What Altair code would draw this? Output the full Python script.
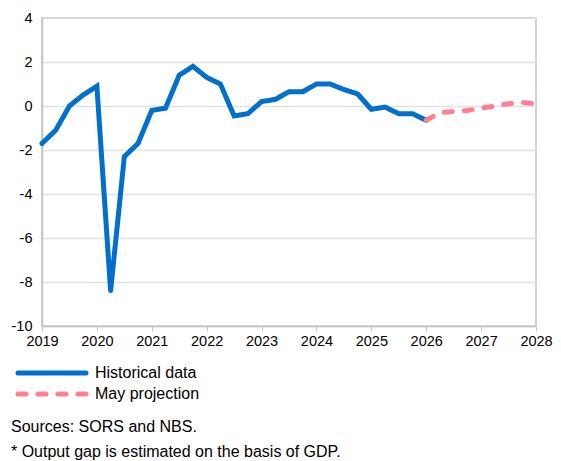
import altair as alt
import pandas as pd

# Quarterly time points (year fractions) and output gap values (% of potential GDP)
hist_t = [2019.0, 2019.25, 2019.5, 2019.75, 2020.0, 2020.25, 2020.5, 2020.75,
          2021.0, 2021.25, 2021.5, 2021.75, 2022.0, 2022.25, 2022.5, 2022.75,
          2023.0, 2023.25, 2023.5, 2023.75, 2024.0, 2024.25, 2024.5, 2024.75,
          2025.0, 2025.25, 2025.5, 2025.75, 2026.0]
hist_v = [-1.7, -1.1, 0.0, 0.5, 0.9, -8.4, -2.3, -1.7,
          -0.2, -0.1, 1.4, 1.8, 1.3, 1.0, -0.45, -0.35,
          0.2, 0.3, 0.65, 0.65, 1.0, 1.0, 0.75, 0.55,
          -0.15, -0.05, -0.35, -0.35, -0.65]

proj_t = [2026.0, 2026.25, 2026.5, 2026.75, 2027.0, 2027.25, 2027.5, 2027.75, 2028.0]
proj_v = [-0.65, -0.3, -0.25, -0.2, -0.1, 0.0, 0.1, 0.17, 0.08]

series_names = ["Historical data", "May projection"]
series_colors = ["#0070cc", "#ff808e"]
series_dash = [[1, 0], [8, 12]]
y_ticks = [-10, -8, -6, -4, -2, 0, 2, 4]
x_ticks = [2019, 2020, 2021, 2022, 2023, 2024, 2025, 2026, 2027, 2028]
notes = ["Sources:  SORS and NBS.", "* Output  gap is estimated  on the basis of GDP."]

df = pd.concat([
    pd.DataFrame({"t": hist_t, "v": hist_v, "s": series_names[0]}),
    pd.DataFrame({"t": proj_t, "v": proj_v, "s": series_names[1]}),
])

FONT = "Liberation Sans"

lines = alt.Chart(df).mark_line(strokeWidth=5, strokeCap="round").encode(
    x=alt.X("t:Q", scale=alt.Scale(domain=[2019, 2028], nice=False, zero=False),
            axis=alt.Axis(values=x_ticks, format="d", title=None, grid=False,
                          tickSize=5, labelPadding=3, labelFlush=False)),
    y=alt.Y("v:Q", scale=alt.Scale(domain=[-10, 4], nice=False),
            axis=alt.Axis(values=y_ticks, title=None, grid=True, ticks=False,
                          labelPadding=10, labelExpr="toString(datum.value)")),
    color=alt.Color("s:N", scale=alt.Scale(domain=series_names, range=series_colors),
                    legend=None),
    strokeDash=alt.StrokeDash("s:N", scale=alt.Scale(domain=series_names, range=series_dash),
                              legend=None),
)

layers = [lines]
# manual legend (decoration)
legend_rows_y = [355, 376]
for i, name in enumerate(series_names):
    sw = alt.Chart(pd.DataFrame({"s": [name]})).mark_rule(
        strokeWidth=5, strokeCap="round", color=series_colors[i], strokeDash=series_dash[i]
    ).encode(x=alt.value(-24), x2=alt.value(44), y=alt.value(legend_rows_y[i]))
    lb = alt.Chart(pd.DataFrame({"s": [name]})).mark_text(
        align="left", baseline="middle", fontSize=16, font=FONT, color="black"
    ).encode(x=alt.value(53), y=alt.value(legend_rows_y[i]), text="s:N")
    layers += [sw, lb]

notes_y = [409, 434]
for i, n in enumerate(notes):
    layers.append(alt.Chart(pd.DataFrame({"n": [n]})).mark_text(
        align="left", baseline="middle", fontSize=16, font=FONT, color="black"
    ).encode(x=alt.value(-31), y=alt.value(notes_y[i]), text="n:N"))

chart = alt.layer(*layers).properties(
    width=494, height=308,
    autosize=alt.AutoSizeParams(type="none"),
    padding={"left": 34, "top": 10, "right": 17, "bottom": 135},
).configure_view(stroke="#c4c4c4", strokeWidth=1.5).configure_axis(
    labelFont=FONT, labelFontSize=14.5, labelColor="black",
    domainColor="#c4c4c4", domainWidth=1.5, tickColor="#c4c4c4",
    gridColor="#e2e2e2", gridWidth=1.5,
)

chart.save("out.html", embed_options={"renderer": "svg", "actions": False})
